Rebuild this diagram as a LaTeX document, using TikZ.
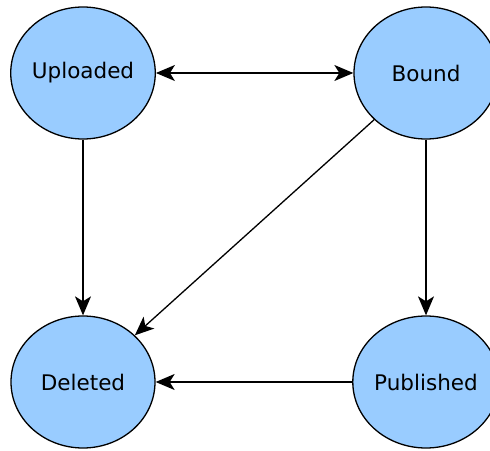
\documentclass[tikz,border=0pt]{standalone}
\usepackage{fontspec}
\setmainfont{DejaVu Sans}
\usetikzlibrary{shapes.geometric,arrows.meta}
\begin{document}
\begin{tikzpicture}[x=1pt,y=1pt,
  state/.style={ellipse, draw=black, line width=1.3pt, fill={rgb,255:red,153;green,204;blue,255},
    minimum width=144pt, minimum height=132pt, inner sep=0pt,
    font=\fontsize{21.5}{24}\selectfont},
  link/.style={line width=1.3pt, -{Stealth[length=19pt,width=16pt,inset=5pt]}},
  biglink/.style={line width=1.3pt, {Stealth[length=19pt,width=16pt,inset=5pt]}-{Stealth[length=19pt,width=16pt,inset=5pt]}}]
  \useasboundingbox (0,0) rectangle (490,450);
  \node[state] (uploaded) at (83,377) {Uploaded};
  \node[state] (bound) at (426,377) {Bound};
  \node[state] (deleted) at (83,68) {Deleted};
  \node[state] (published) at (426,68) {Published};
  \draw[biglink] (uploaded) -- (bound);
  \draw[link] (uploaded) -- (deleted);
  \draw[link] (bound) -- (deleted);
  \draw[link] (bound) -- (published);
  \draw[link] (published) -- (deleted);
\end{tikzpicture}
\end{document}
